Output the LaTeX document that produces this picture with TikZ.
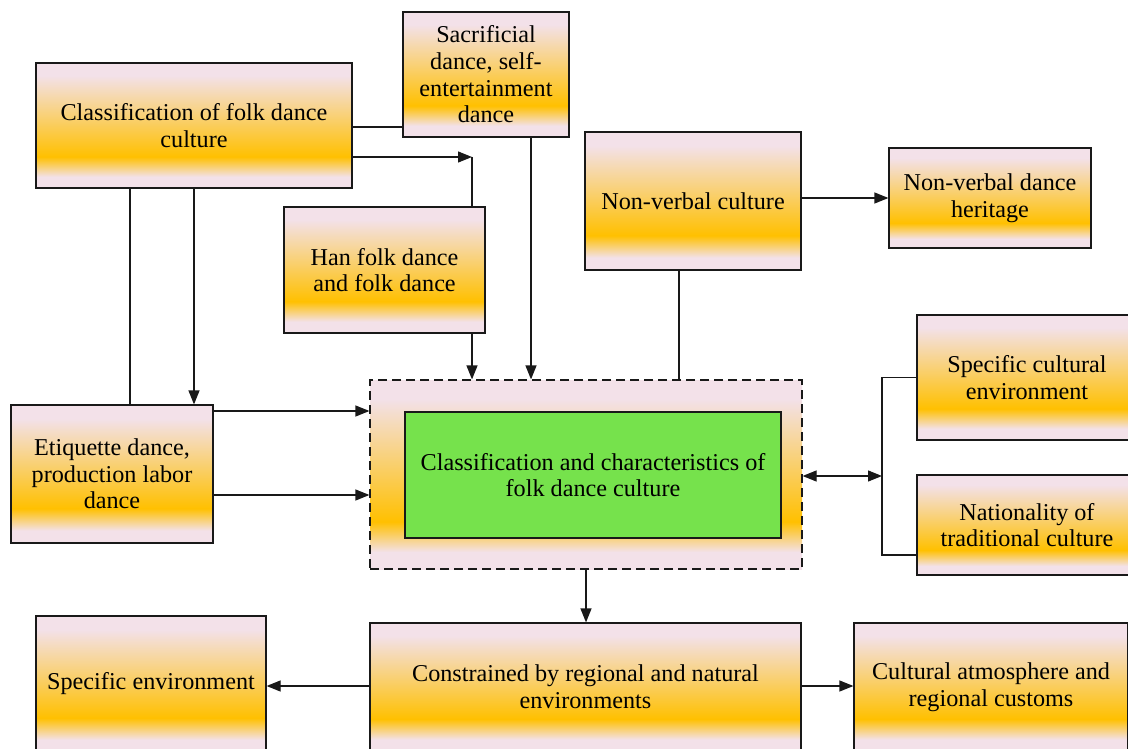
\documentclass[tikz,border=0pt]{standalone}
\usepackage{fontspec}
\setmainfont{Liberation Serif}
\usetikzlibrary{arrows.meta}
\definecolor{pk}{RGB}{243,225,233}
\definecolor{gd}{RGB}{255,192,0}
\definecolor{gn}{RGB}{118,226,76}
\definecolor{bd}{RGB}{25,25,25}
\pgfdeclareverticalshading{boxgrad}{100bp}{color(0bp)=(pk); color(29.5bp)=(pk); color(37.5bp)=(gd); color(70bp)=(pk); color(100bp)=(pk)}
\tikzset{
  txt/.style={font=\fontsize{24.2}{26.7}\selectfont},
  box/.style={draw=bd, line width=1.2pt, shading=boxgrad, align=center, txt, inner sep=0pt},
  arr/.style={-{Triangle[length=14pt,width=11pt]}, line width=1.2pt, draw=bd},
  darr/.style={{Triangle[length=14pt,width=11pt]}-{Triangle[length=14pt,width=11pt]}, line width=1.2pt, draw=bd},
  ln/.style={line width=1.2pt, draw=bd}
}
\begin{document}
\begin{tikzpicture}[x=1pt,y=-1pt]
\useasboundingbox (0,0) rectangle (1128,749);
\clip (0,0) rectangle (1128,749);
% nodes
\node[box, minimum width=316pt, minimum height=125pt] (A) at (194,125.5) {Classification of folk dance\\culture};
\node[box, minimum width=166pt, minimum height=125pt] (B) at (486,74.5) {Sacrificial\\dance, self-\\entertainment\\dance};
\node[box, minimum width=216pt, minimum height=138pt] (C) at (693,201) {Non-verbal culture};
\node[box, minimum width=202pt, minimum height=100pt] (D) at (990,198) {Non-verbal dance\\heritage};
\node[box, minimum width=201pt, minimum height=126pt] (E) at (384.5,270) {Han folk dance\\and folk dance};
\node[box, minimum width=220pt, minimum height=125pt] (F) at (1027,377.5) {Specific cultural\\environment};
\node[box, minimum width=220pt, minimum height=100pt] (G) at (1027,525) {Nationality of\\traditional culture};
\node[box, minimum width=202pt, minimum height=138pt] (H) at (112,474) {Etiquette dance,\\production labor\\dance};
\node[box, dashed, dash pattern=on 9pt off 5pt, minimum width=432pt, minimum height=189pt] (O) at (586,474.5) {};
\node[draw=bd, line width=1.2pt, fill=gn, align=center, txt, inner sep=0pt, minimum width=376pt, minimum height=126pt] (M) at (593,475) {Classification and characteristics of\\folk dance culture};
\node[box, minimum width=230pt, minimum height=136pt] (I) at (151,684) {Specific environment};
\node[box, minimum width=431pt, minimum height=128pt] (J) at (585.5,687) {Constrained by regional and natural\\environments};
\node[box, minimum width=274pt, minimum height=128pt] (K) at (991,687) {Cultural atmosphere and\\regional customs};
% connectors
\coordinate (j1) at (472,157);
\coordinate (j2) at (882,476);
\draw[ln] (A.east |- 0,127) -- (B.west |- 0,127);
\draw[arr] (A.east |- j1) -- (j1);
\draw[ln] (j1) -- (E.north -| j1);
\draw[arr] (B.south -| 531,0) -- (O.north -| 531,0);
\draw[arr] (E.south -| 472,0) -- (O.north -| 472,0);
\draw[ln] (C.south -| 679,0) -- (O.north -| 679,0);
\draw[arr] (C.east |- 0,198) -- (D.west |- 0,198);
\draw[ln] (A.south -| 130,0) -- (H.north -| 130,0);
\draw[arr] (A.south -| 194,0) -- (H.north -| 194,0);
\draw[arr] (H.east |- 0,411) -- (O.west |- 0,411);
\draw[arr] (H.east |- 0,495) -- (O.west |- 0,495);
\draw[darr] (O.east |- j2) -- (j2);
\draw[ln] (F.west) -- (j2 |- F.west) -- (j2 |- 0,555) -- (G.west |- 0,555);
\draw[arr] (O.south -| 586,0) -- (J.north -| 586,0);
\draw[arr] (J.west |- 0,686) -- (I.east |- 0,686);
\draw[arr] (J.east |- 0,686) -- (K.west |- 0,686);
\end{tikzpicture}
\end{document}
